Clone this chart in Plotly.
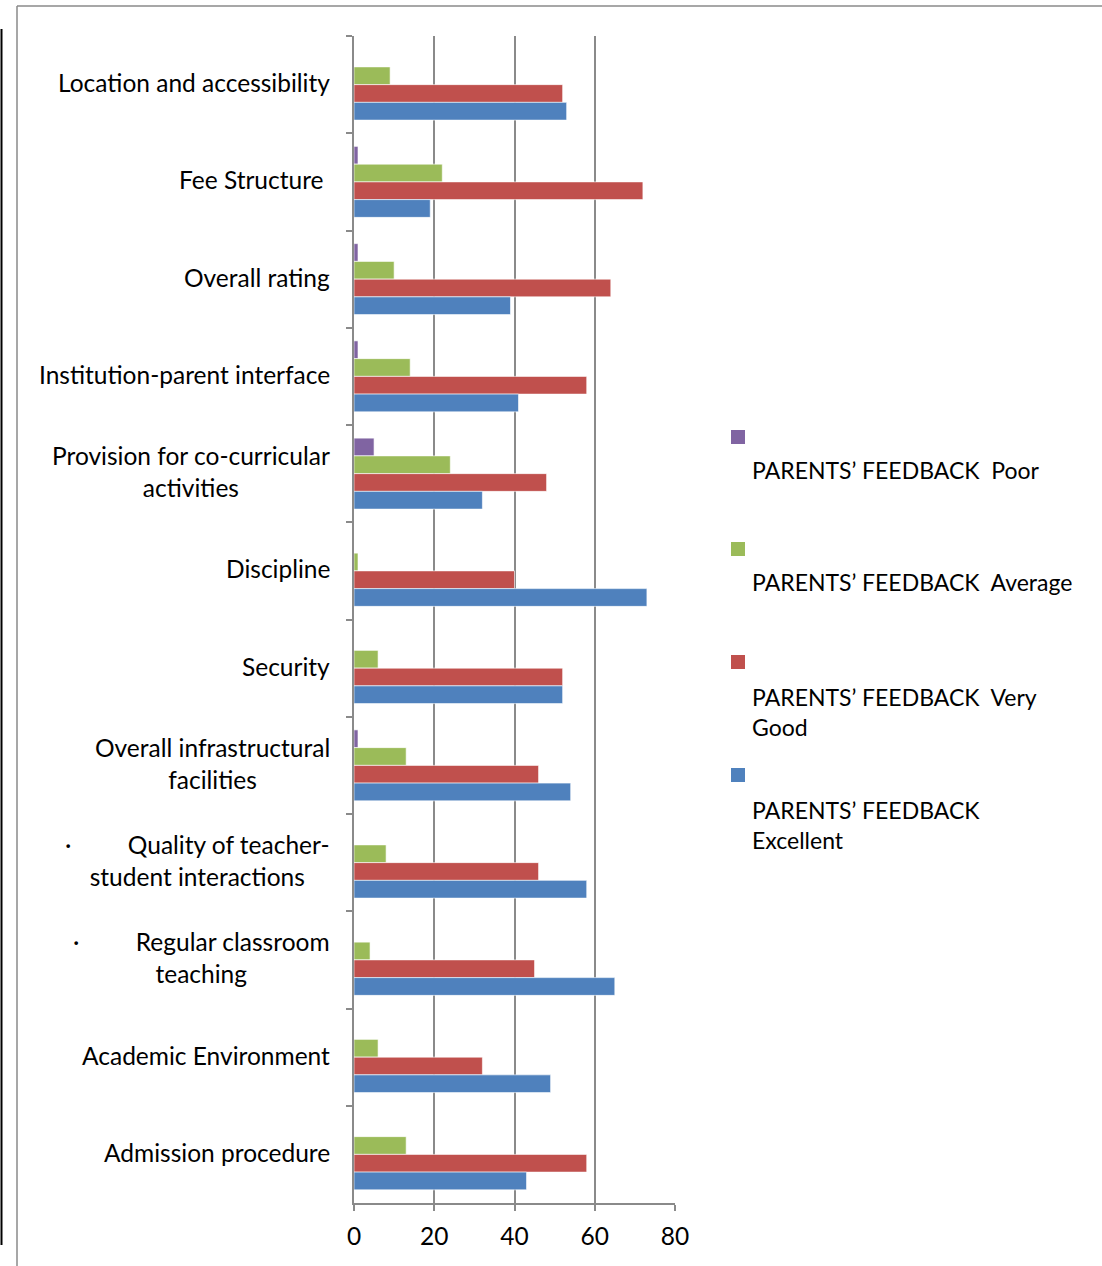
import plotly.graph_objects as go

categories = [
    "Location and accessibility",
    "Fee Structure",
    "Overall rating",
    "Institution-parent interface",
    "Provision for co-curricular activities",
    "Discipline",
    "Security",
    "Overall infrastructural facilities",
    "Quality of teacher-student interactions",
    "Regular classroom teaching",
    "Academic Environment",
    "Admission procedure",
]
category_labels = [
    "Location and accessibility",
    "Fee Structure\u00a0",
    "Overall rating",
    "Institution-parent interface",
    "Provision for co-curricular<br>activities",
    "Discipline",
    "Security",
    "Overall infrastructural<br>facilities",
    "\u00b7\u00a0\u00a0\u00a0\u00a0\u00a0\u00a0\u00a0\u00a0\u00a0Quality of teacher-<br>student interactions",
    "\u00b7\u00a0\u00a0\u00a0\u00a0\u00a0\u00a0\u00a0\u00a0\u00a0Regular classroom<br>teaching",
    "Academic Environment",
    "Admission procedure",
]
poor      = [0, 1, 1, 1, 5, 0, 0, 1, 0, 0, 0, 0]
average   = [9, 22, 10, 14, 24, 1, 6, 13, 8, 4, 6, 13]
very_good = [52, 72, 64, 58, 48, 40, 52, 46, 46, 45, 32, 58]
excellent = [53, 19, 39, 41, 32, 73, 52, 54, 58, 65, 49, 43]

series_names = ["PARENTS\u2019 FEEDBACK\u00a0\u00a0Poor",
                "PARENTS\u2019 FEEDBACK\u00a0\u00a0Average",
                "PARENTS\u2019 FEEDBACK\u00a0\u00a0Very<br>Good",
                "PARENTS\u2019 FEEDBACK<br>Excellent"]
colors = ["#8064A2", "#9BBB59", "#C0504D", "#4F81BD"]
x_ticks = [0, 20, 40, 60, 80]

W, H = 1102, 1266
L, R, T, B = 354, 675, 36, 1203
FONT = "Lato"
FS = 24.5
FS_LEG = 23

def px(x):
    return (x - L) / (R - L)

def py(y):
    return (B - y) / (B - T)

fig = go.Figure()
for name, vals, col in zip(series_names, [poor, average, very_good, excellent], colors):
    fig.add_trace(go.Bar(
        y=categories, x=vals, orientation="h", name=name,
        marker=dict(color=col, line=dict(color="rgba(255,255,255,0.6)", width=1)),
    ))

annotations = []
for cat, lab in zip(categories, category_labels):
    annotations.append(dict(
        x=px(332), xref="paper", y=cat, yref="y", text=lab, yshift=2,
        xanchor="right", yanchor="middle", align="center", showarrow=False,
        font=dict(family=FONT, size=FS, color="#000"),
    ))

shapes = []
legend_pos = [(437, [470]), (549, [582]), (662, [695, 728]), (775, [808, 841])]
for (my, ty), name, col in zip(legend_pos, series_names, colors):
    shapes.append(dict(type="rect", xref="paper", yref="paper",
                       x0=px(731), x1=px(745), y0=py(my + 7), y1=py(my - 7),
                       fillcolor=col, line=dict(width=0)))
    annotations.append(dict(
        x=px(750), xref="paper", y=py(sum(ty) / len(ty)), yref="paper", text=name,
        xanchor="left", yanchor="middle", align="left", showarrow=False,
        font=dict(family=FONT, size=FS_LEG, color="#000"),
    ))

# outer frame lines
shapes.append(dict(type="line", xref="paper", yref="paper",
                   x0=px(17), x1=px(1102), y0=py(6), y1=py(6),
                   line=dict(color="#8a8a8a", width=1.5)))
shapes.append(dict(type="line", xref="paper", yref="paper",
                   x0=px(17), x1=px(17), y0=py(6), y1=py(1266),
                   line=dict(color="#8a8a8a", width=1.5)))
shapes.append(dict(type="line", xref="paper", yref="paper",
                   x0=px(1.5), x1=px(1.5), y0=py(29), y1=py(1245),
                   line=dict(color="#000", width=2)))

fig.update_layout(
    width=W, height=H,
    margin=dict(l=L, r=W - R, t=T, b=H - B, pad=0),
    paper_bgcolor="white", plot_bgcolor="white",
    barmode="group", bargap=0.27, bargroupgap=0,
    showlegend=False,
    annotations=annotations, shapes=shapes,
    font=dict(family=FONT, size=FS, color="#000"),
    xaxis=dict(range=[0, 80], tickvals=x_ticks, showgrid=True,
               gridcolor="#8a8a8a", gridwidth=1.5, zeroline=False,
               showline=True, linecolor="#8a8a8a", linewidth=1.5,
               ticks="outside", ticklen=6, tickcolor="#8a8a8a", tickwidth=1.5,
               ticklabelstandoff=5,
               tickfont=dict(family=FONT, size=FS, color="#000")),
    yaxis=dict(autorange="reversed", showticklabels=False, showgrid=False,
               showline=True, linecolor="#8a8a8a", linewidth=1.5,
               ticks="outside", ticklen=6, tickcolor="#8a8a8a", tickwidth=1.5,
               tickson="boundaries", zeroline=False),
)

fig.write_html("out.html", config={"displayModeBar": False},
               post_script="document.body.style.margin='0';document.body.style.padding='0';")
